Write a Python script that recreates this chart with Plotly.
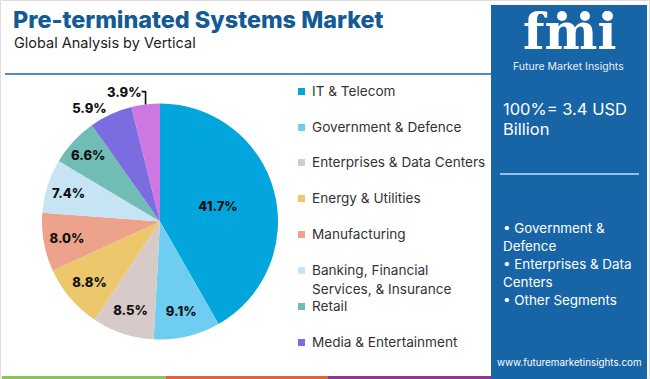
import plotly.graph_objects as go

# ---- data ----
categories = ["IT & Telecom", "Government & Defence", "Enterprises & Data Centers",
              "Energy & Utilities", "Manufacturing", "Banking, Financial Services, & Insurance",
              "Retail", "Media & Entertainment", "Others"]
shares = [41.7, 9.1, 8.5, 8.8, 8.0, 7.4, 6.6, 5.9, 3.9]
colors = ["#02a5dc", "#6fcdf1", "#d6cbc8", "#ecc76c", "#eca28b", "#c6e4f4",
          "#70bdb5", "#7b6de0", "#cc77e2"]
legend_labels = [["IT & Telecom"], ["Government & Defence"], ["Enterprises & Data Centers"],
                 ["Energy & Utilities"], ["Manufacturing"], ["Banking, Financial", "Services, & Insurance"],
                 ["Retail"], ["Media & Entertainment"]]
title = "Pre-terminated Systems Market"
subtitle = "Global Analysis by Vertical"
market_size = ["100%= 3.4 USD", "Billion"]
key_segments = ["• Government &", "Defence", "• Enterprises & Data", "Centers", "• Other Segments"]

W, H = 650, 379
FONT = "Inter"
PANEL = "#1764a6"

def px(x):
    return x / W

def py(y):
    return 1 - y / H

positions = ["inside"] * 7 + ["outside"] * 2

fig = go.Figure()
fig.add_trace(go.Pie(
    labels=categories, values=shares, sort=False, direction="clockwise", rotation=0,
    marker=dict(colors=colors, line=dict(width=0)),
    texttemplate="%{value:.1f}%", textposition=positions,
    insidetextorientation="horizontal",
    textfont=dict(family=FONT, size=13, color="#111111", weight=800),
    showlegend=False, hoverinfo="label+value",
    domain=dict(x=[px(42), px(278)], y=[py(340), py(103)]),
))

shapes = []
annotations = []

def text(t, x, y, size, color, anchor="left", weight="normal", family=FONT):
    annotations.append(dict(text=t, x=px(x), y=py(y), xref="paper", yref="paper",
                            xanchor=anchor, yanchor="middle", align="left", showarrow=False,
                            font=dict(family=family, size=size, color=color, weight=weight)))

# frame
shapes.append(dict(type="rect", xref="paper", yref="paper", x0=px(0.5), x1=px(649.5), y0=py(378.5), y1=py(0.5),
                   line=dict(color="#dddddd", width=1), fillcolor="rgba(0,0,0,0)", layer="below"))
# top separator line
shapes.append(dict(type="line", xref="paper", yref="paper", x0=px(5), x1=px(491), y0=py(74), y1=py(74),
                   line=dict(color="#4a8cc4", width=2)))
# right panel
shapes.append(dict(type="rect", xref="paper", yref="paper", x0=px(491), x1=px(647), y0=py(379), y1=py(5),
                   line=dict(width=0), fillcolor=PANEL, layer="below"))
# bottom stripes
for x0, x1, c in [(2, 166, "#8fc15a"), (166, 328, "#e0643a"), (328, 491, "#8e3a8c")]:
    shapes.append(dict(type="rect", xref="paper", yref="paper", x0=px(x0), x1=px(x1), y0=py(379), y1=py(376),
                       line=dict(width=0), fillcolor=c))
# panel divider
shapes.append(dict(type="line", xref="paper", yref="paper", x0=px(500), x1=px(639), y0=py(174), y1=py(174),
                   line=dict(color="#c9dcee", width=1.5)))

# title texts
text(title, 11, 19, 23.4, "#135a96", weight=800)
text(subtitle, 12, 42, 14.5, "#222222")

# legend (manual)
leg_y = [91, 127, 162, 198, 234, 270, 306, 342]
for lines, col, y in zip(legend_labels, colors, leg_y):
    shapes.append(dict(type="rect", xref="paper", yref="paper", x0=px(298), x1=px(305), y0=py(y + 4), y1=py(y - 3),
                       line=dict(width=0), fillcolor=col))
    for i, ln in enumerate(lines):
        text(ln, 310, y + i * 19, 13.6, "#333333")

# logo
text("<b>fmi</b>", 569, 31, 50, "white", anchor="center", family="DejaVu Serif")
for yy in range(13, 56, 4):
    shapes.append(dict(type="line", xref="paper", yref="paper", x0=px(510), x1=px(632), y0=py(yy), y1=py(yy),
                       line=dict(color=PANEL, width=1)))
for cx in [562, 585, 608]:
    shapes.append(dict(type="circle", xref="paper", yref="paper", x0=px(cx - 5), x1=px(cx + 5),
                       y0=py(21), y1=py(11), line=dict(width=0), fillcolor="white"))
text("Future Market Insights", 568, 67, 10.5, "#e6eef7", anchor="center")

# panel texts
for i, ln in enumerate(market_size):
    text(ln, 501, 109 + i * 20, 16.5, "white")
seg_y = [228, 246, 264, 282, 300]
for ln, y in zip(key_segments, seg_y):
    text(ln, 501, y, 13.4, "white")
text("www.futuremarketinsights.com", 569, 362, 9.8, "white", anchor="center")

fig.update_layout(width=W, height=H, margin=dict(l=0, r=0, t=0, b=0),
                  paper_bgcolor="white", plot_bgcolor="white",
                  shapes=shapes, annotations=annotations)
fig.write_html("out.html", config={"displayModeBar": False},
               post_script="document.body.style.margin='0';")
